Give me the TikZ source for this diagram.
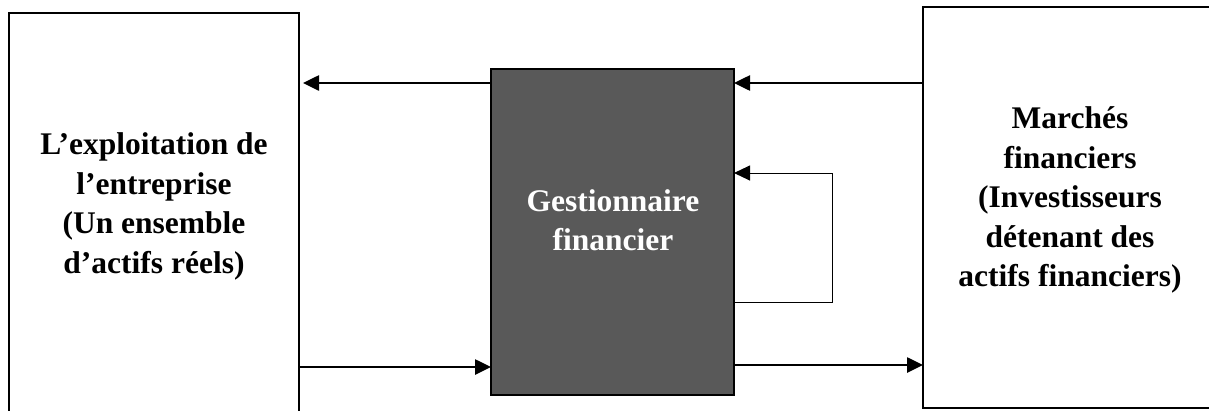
\documentclass[tikz,border=0pt]{standalone}
\usepackage{fontspec}
\setmainfont{Liberation Serif}
\usetikzlibrary{arrows.meta}
\definecolor{midgray}{HTML}{595959}
\begin{document}
\begin{tikzpicture}[x=1pt,y=-1pt,
  box/.style={draw=black,line width=2.3pt,inner sep=0pt,outer sep=0pt},
  lbl/.style={font=\fontsize{31.5}{39.5}\selectfont\bfseries,align=center,inner sep=0pt},
  arr/.style={line width=2.6pt,-{Triangle[length=16pt,width=15pt]}},
  thinarr/.style={line width=1pt,-{Triangle[length=16pt,width=15pt]}}]
\useasboundingbox (0,0) rectangle (1209,410);
\clip (0,0) rectangle (1209,410);
% boxes
\node[box,minimum width=290pt,minimum height=407pt,anchor=north west] (expl) at (9,13) {};
\node[box,fill=midgray,minimum width=243pt,minimum height=326pt,anchor=north west] (gest) at (491,69) {};
\node[box,minimum width=294pt,minimum height=401pt,anchor=north west] (marc) at (923,7) {};
% labels
\node[lbl] (explt) at (154,206.5) {L’exploitation de\\l’entreprise\\(Un ensemble\\d’actifs réels)};
\node[lbl,text=white] (gestt) at (613,220) {Gestionnaire\\financier};
\node[lbl] (marct) at (1070,200) {Marchés\\financiers\\(Investisseurs\\détenant des\\actifs financiers)};
% connectors
\draw[arr] (marc.west |- 0,83) -- (gest.east |- 0,83);
\draw[arr] (gest.west |- 0,83) -- ([xshift=4pt]expl.east |- 0,83);
\draw[arr] (expl.east |- 0,367) -- (gest.west |- 0,367);
\draw[arr] (gest.east |- 0,365) -- (marc.west |- 0,365);
\coordinate (loopA) at (832,302);
\coordinate (loopB) at (832,173);
\draw[thinarr] (gest.east |- loopA) -- (loopA) -- (loopB) -- (gest.east |- loopB);
\end{tikzpicture}
\end{document}
